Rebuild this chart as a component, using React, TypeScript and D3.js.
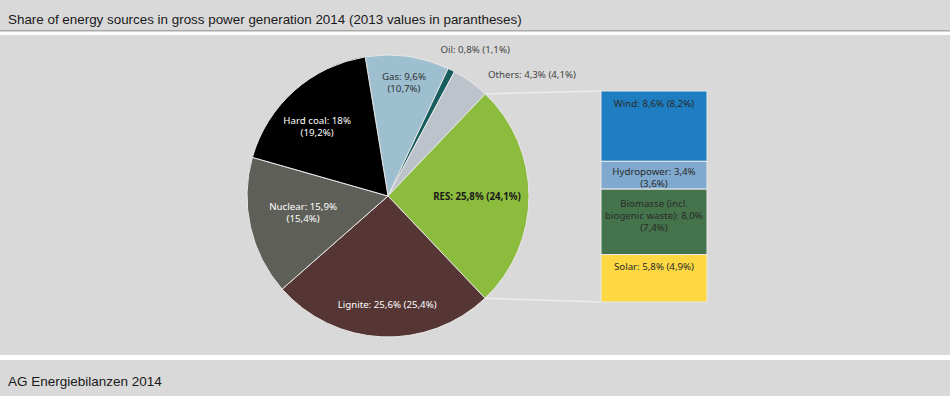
import React from "react";
import * as d3 from "d3";

const titleText = "Share of energy sources in gross power generation 2014 (2013 values in parantheses)";
const sourceText = "AG Energiebilanzen 2014";

const pieNames = ["Gas", "Oil", "Others", "RES", "Lignite", "Nuclear", "Hard coal"];
const pieValues2014 = [9.6, 0.8, 4.3, 25.8, 25.6, 15.9, 18];
const pieValues2013 = [10.7, 1.1, 4.1, 24.1, 25.4, 15.4, 19.2];

const resNames = ["Wind", "Hydropower", "Biomasse (incl. biogenic waste)", "Solar"];
const resValues2014 = [8.6, 3.4, 8.0, 5.8];
const resValues2013 = [8.2, 3.6, 7.4, 4.9];

const W = 950;
const H = 396;

const fmt = (v: number) => (Number.isInteger(v) && v >= 10 ? String(v) : v.toFixed(1).replace(".", ","));

const pieColors: Record<string, string> = {
  Gas: "#9dbfd0",
  Oil: "#175d5e",
  Others: "#bcc3ca",
  RES: "#8cbc3d",
  Lignite: "#553634",
  Nuclear: "#5f5f59",
  "Hard coal": "#000000",
};

const resColors: Record<string, string> = {
  Wind: "#1f7ec2",
  Hydropower: "#7fa9cf",
  "Biomasse (incl. biogenic waste)": "#45744c",
  Solar: "#fdd843",
};

// label layout: radius from centre, line mode, colour, anchor, extra offset
const pieLabelLayout: Record<string, any> = {
  Gas: { r: 115, split: true, color: "#333", anchor: "middle", dx: 0, dy: 0, weight: 400 },
  Oil: { r: 165, split: false, color: "#444", anchor: "middle", dx: 13, dy: 0, weight: 400 },
  Others: { r: 150, split: false, color: "#444", anchor: "start", dx: 12, dy: 0, weight: 400 },
  RES: { r: 89, split: false, color: "#1a1a1a", anchor: "middle", dx: 0, dy: 0, weight: 700 },
  Lignite: { r: 108, split: false, color: "#fff", anchor: "middle", dx: 4, dy: 0, weight: 400 },
  Nuclear: { r: 87, split: true, color: "#fff", anchor: "middle", dx: 0, dy: -3, weight: 400 },
  "Hard coal": { r: 99, split: true, color: "#fff", anchor: "middle", dx: -5, dy: 4, weight: 400 },
};

const resLines = (name: string, a: string, b: string): string[] => {
  if (name === "Hydropower") return [`${name}: ${a}%`, `(${b}%)`];
  if (name.startsWith("Biomasse")) return ["Biomasse (incl.", `biogenic waste): ${a}%`, `(${b}%)`];
  return [`${name}: ${a}% (${b}%)`];
};

export default function App() {
  React.useEffect(() => {
    document.body.style.margin = "0";
  }, []);

  const cx = 388;
  const cy = 196;
  const R = 141;
  const start = (-9.3 * Math.PI) / 180;

  const pie = d3
    .pie<number>()
    .sort(null)
    .value((d) => d)
    .startAngle(start)
    .endAngle(start + 2 * Math.PI);
  const arcs = pie(pieValues2014);
  const arc = d3.arc<d3.PieArcDatum<number>>().innerRadius(0).outerRadius(R);

  const resIdx = pieNames.indexOf("RES");
  const resArc = arcs[resIdx];
  const pt = (a: number, r: number) => [cx + r * Math.sin(a), cy - r * Math.cos(a)];
  const [p1x, p1y] = pt(resArc.startAngle, R);
  const [p2x, p2y] = pt(resArc.endAngle, R);

  const barX = 601;
  const barW = 106;
  const total = d3.sum(resValues2014);
  const y = d3.scaleLinear().domain([0, total]).range([91, 302]);
  const cum = resValues2014.map((_, i) => d3.sum(resValues2014.slice(0, i)));

  const font = "'Noto Sans', 'DejaVu Sans', sans-serif";
  const fs = 9.7;

  return (
    <svg width={W} height={H} style={{ display: "block" }} fontFamily={font}>
      <rect x={0} y={0} width={W} height={H} fill="#ffffff" />
      <rect x={0} y={0} width={W} height={30} fill="#d9d9d9" />
      <rect x={0} y={30} width={W} height={1.5} fill="#a9a9a9" />
      <rect x={0} y={35} width={W} height={320} fill="#d9d9d9" />
      <rect x={0} y={360} width={W} height={36} fill="#d9d9d9" />
      <text x={8} y={23.5} fontFamily="'Liberation Sans', Arial, sans-serif" fontSize={13.4} fill="#1a1a1a">
        {titleText}
      </text>
      <text x={8} y={385.5} fontFamily="'Liberation Sans', Arial, sans-serif" fontSize={13.5} fill="#1a1a1a">
        {sourceText}
      </text>

      {/* connector lines */}
      <line x1={p1x} y1={p1y} x2={barX} y2={y(0)} stroke="#ececec" strokeWidth={1.5} />
      <line x1={p2x} y1={p2y} x2={barX} y2={y(total)} stroke="#ececec" strokeWidth={1.5} />

      <g transform={`translate(${cx},${cy})`}>
        {arcs.map((a, i) => (
          <path key={i} d={arc(a) || ""} fill={pieColors[pieNames[i]]} stroke="#e8e8e8" strokeWidth={1} />
        ))}
      </g>

      {arcs.map((a, i) => {
        const name = pieNames[i];
        const L = pieLabelLayout[name];
        const mid = (a.startAngle + a.endAngle) / 2;
        const [lx, ly] = pt(mid, L.r);
        const t1 = `${name}: ${fmt(pieValues2014[i])}%`;
        const t2 = `(${fmt(pieValues2013[i])}%)`;
        const lines = L.split ? [t1, t2] : [`${t1} ${t2}`];
        const x0 = lx + L.dx;
        const y0 = ly + L.dy - ((lines.length - 1) * 12) / 2;
        return (
          <text
            key={name}
            x={x0}
            y={y0}
            textAnchor={L.anchor}
            fontSize={fs}
            fill={L.color}
            fontWeight={L.weight}
            dominantBaseline="central"
          >
            {lines.map((l, k) => (
              <tspan key={k} x={x0} dy={k === 0 ? 0 : 12}>
                {l}
              </tspan>
            ))}
          </text>
        );
      })}

      {/* RES breakdown bar */}
      {resValues2014.map((v, i) => {
        const y0 = y(cum[i]);
        const y1 = y(cum[i] + v);
        const lines = resLines(resNames[i], fmt(v), fmt(resValues2013[i]));
        const off = lines.length === 3 ? 13.5 : lines.length === 2 ? 10 : 11.5;
        return (
          <g key={resNames[i]}>
            <rect x={barX} y={y0} width={barW} height={y1 - y0} fill={resColors[resNames[i]]} stroke="#e8e8e8" strokeWidth={1} />
            <text x={barX + barW / 2} y={y0 + off} textAnchor="middle" fontSize={fs} fill="#2a2a2a" dominantBaseline="central">
              {lines.map((l, k) => (
                <tspan key={k} x={barX + barW / 2} dy={k === 0 ? 0 : 12}>
                  {l}
                </tspan>
              ))}
            </text>
          </g>
        );
      })}
    </svg>
  );
}
